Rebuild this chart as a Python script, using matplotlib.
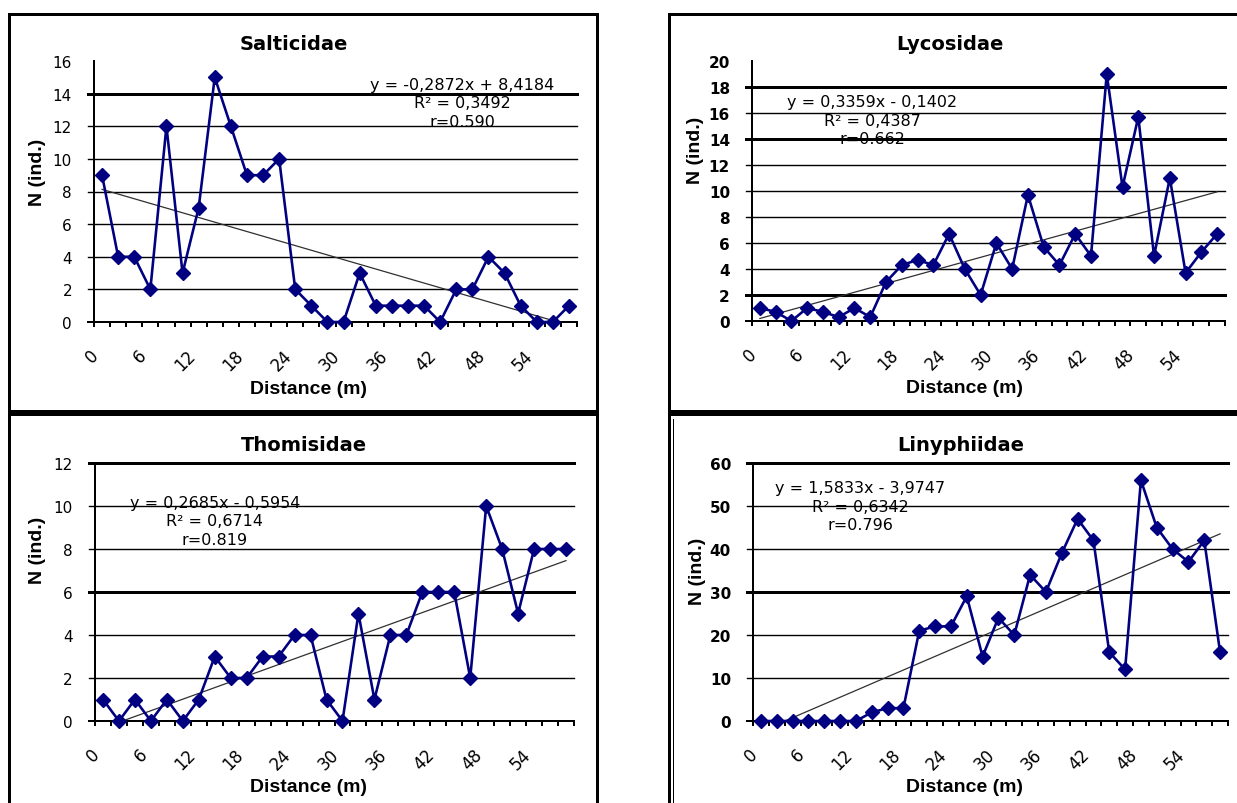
import numpy as np
import matplotlib.pyplot as plt

plt.rcParams['font.family'] = ['DejaVu Sans']

W, H = 1237, 804

# categories (m) and the labels Excel shows on the axis
distance = [0, 2, 4, 6, 8, 10, 12, 14, 16, 18, 20, 22, 24, 26, 28,
            30, 32, 34, 36, 38, 40, 42, 44, 46, 48, 50, 52, 54, 56, 58]
tick_labels = ["0", "6", "12", "18", "24", "30", "36", "42", "48", "54"]

salticidae = [9, 4, 4, 2, 12, 3, 7, 15, 12, 9, 9, 10, 2, 1, 0,
              0, 3, 1, 1, 1, 1, 0, 2, 2, 4, 3, 1, 0, 0, 1]
lycosidae = [1, 0.7, 0, 1, 0.7, 0.3, 1, 0.3, 3, 4.3, 4.7, 4.3, 6.7, 4, 2,
             6, 4, 9.7, 5.7, 4.3, 6.7, 5, 19, 10.3, 15.7, 5, 11, 3.7, 5.3, 6.7]
thomisidae = [1, 0, 1, 0, 1, 0, 1, 3, 2, 2, 3, 3, 4, 4, 1,
              0, 5, 1, 4, 4, 6, 6, 6, 2, 10, 8, 5, 8, 8, 8]
linyphiidae = [0, 0, 0, 0, 0, 0, 0, 2, 3, 3, 21, 22, 22, 29, 15,
               24, 20, 34, 30, 39, 47, 42, 16, 12, 56, 45, 40, 37, 42, 16]

# Excel linear trendlines (x = category number 1..30)
salticidae_fit = (-0.2872, 8.4184)
lycosidae_fit = (0.3359, -0.1402)
thomisidae_fit = (0.2685, -0.5954)
linyphiidae_fit = (1.5833, -3.9747)

salticidae_eq = "y = -0,2872x + 8,4184\nR² = 0,3492\nr=0.590"
lycosidae_eq = "y = 0,3359x - 0,1402\nR² = 0,4387\nr=0.662"
thomisidae_eq = "y = 0,2685x - 0,5954\nR² = 0,6714\nr=0.819"
linyphiidae_eq = "y = 1,5833x - 3,9747\nR² = 0,6342\nr=0.796"

NAVY = '#000080'
PT = 0.72  # points per pixel at dpi 100
LABEL_FONT = ['Liberation Sans', 'DejaVu Sans']

fig = plt.figure(figsize=(W / 100, H / 100), dpi=100)

# background axes in pixel coordinates for frames and loose text
bg = fig.add_axes([0, 0, 1, 1])
bg.set_xlim(0, W)
bg.set_ylim(H, 0)
bg.axis('off')


def frame(x0, y0, x1, y1):
    bg.plot([x0, x0, x1, x1, x0], [y1, y0, y0, y1, y1], color='black',
            lw=3 * PT, solid_joinstyle='miter', clip_on=False)


frame(9, 15, 597, 412)
frame(669, 15, 1262, 412)
frame(9, 415, 597, 840)
frame(669, 415, 1262, 840)
bg.plot([673, 673], [420, 804], color='black', lw=1 * PT)


def panel(box, values, fit, eq, title, ymax, ystep, grid_vals, thick,
          title_xy, eq_xy, xlabel_xy, ylabel_xy, bold_ticks):
    left, top, right, bottom = box
    ax = fig.add_axes([left / W, 1 - bottom / H, (right - left) / W, (bottom - top) / H])
    ax.patch.set_alpha(0)
    for s in ax.spines.values():
        s.set_visible(False)
    ax.set_xlim(distance[0] - 1, distance[-1] + 1)
    ax.set_ylim(0, ymax)

    # gridlines, extended left to act as tick marks
    ext = 6 / (right - left)
    for v in grid_vals:
        lw = 3 if v in thick else 1.4
        ax.plot([-ext, 1], [v, v], transform=ax.get_yaxis_transform(),
                color='black', lw=lw * PT, clip_on=False, zorder=1)
    ax.plot([-ext, 1], [0, 0], transform=ax.get_yaxis_transform(),
            color='black', lw=2 * PT, clip_on=False, zorder=1)
    ax.plot([0, 0], [0, 1], transform=ax.transAxes, color='black',
            lw=2 * PT, clip_on=False, zorder=1)

    # y tick labels
    yt = np.arange(0, ymax + ystep / 2, ystep)
    ax.set_yticks(yt)
    ax.set_yticklabels([str(int(v)) for v in yt],
                       fontweight='bold' if bold_ticks else 'normal')
    ax.tick_params(axis='y', length=0, pad=16 * PT + 6 * PT, labelsize=11)

    # x: boundaries get tick marks, every third category gets a label
    bounds = [d - 1 for d in distance] + [distance[-1] + 1]
    ax.set_xticks(bounds, minor=True)
    ax.set_xticks(distance[::3])
    ax.set_xticklabels(tick_labels, rotation=45, ha='right', va='top')
    ax.tick_params(axis='x', which='minor', length=5 * PT, width=2 * PT,
                   direction='out')
    ax.tick_params(axis='x', which='major', length=0, pad=24 * PT,
                   labelsize=12)

    # trendline
    xs = np.array([distance[0], distance[-1]], dtype=float)
    m, b = fit
    ax.plot(xs, m * (xs / 2 + 1) + b, color='#303030', lw=0.9, zorder=3)

    # data series
    ax.plot(distance, values, color=NAVY, lw=2.6 * PT, marker='D',
            ms=7.5, mec=NAVY, mfc=NAVY, clip_on=False, zorder=5)

    bg.text(*title_xy, title, ha='center', va='center', fontsize=14,
            fontweight='bold')
    bg.text(*eq_xy, eq, ha='center', va='center', fontsize=11.5,
            linespacing=1.3, multialignment='center')
    bg.text(*xlabel_xy, 'Distance (m)', ha='center', va='center',
            fontsize=14, fontweight='bold', family=LABEL_FONT)
    bg.text(*ylabel_xy, 'N (ind.)', ha='center', va='center', rotation=90,
            fontsize=14, fontweight='bold', family=LABEL_FONT)
    return ax


panel((94, 62, 577, 323), salticidae, salticidae_fit, salticidae_eq,
      'Salticidae', 16, 2, range(2, 16, 2), [14],
      (294, 44), (462, 104), (308, 390), (38, 172), False)
panel((752, 62, 1225, 322), lycosidae, lycosidae_fit, lycosidae_eq,
      'Lycosidae', 20, 2, range(2, 20, 2), [18, 14, 2],
      (950, 44), (872, 121), (965, 389), (695, 150), True)
panel((95, 464, 574, 722), thomisidae, thomisidae_fit, thomisidae_eq,
      'Thomisidae', 12, 2, range(2, 13, 2), [12, 6],
      (304, 446), (215, 522), (308, 788), (38, 550), False)
panel((753, 464, 1228, 722), linyphiidae, linyphiidae_fit, linyphiidae_eq,
      'Linyphiidae', 60, 10, range(10, 61, 10), [60, 30],
      (961, 446), (860, 507), (965, 788), (697, 571), True)

fig.savefig('out.png', dpi=100)
